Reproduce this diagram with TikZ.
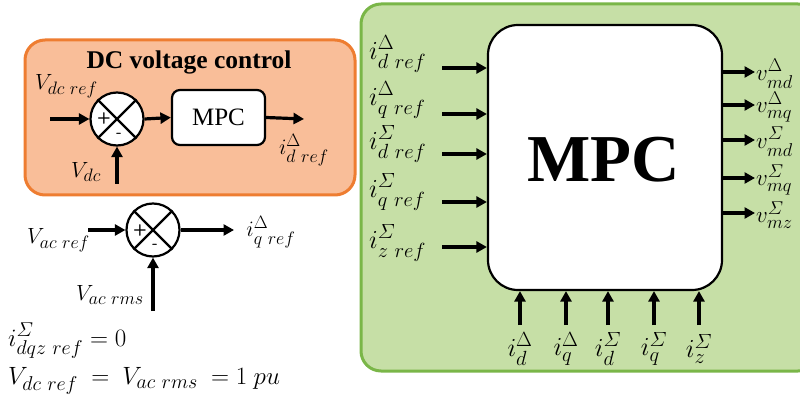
\RequirePackage{fix-cm}
\documentclass[tikz,border=0pt]{standalone}
\usepackage{amsmath}
\usepackage{fontspec}
\setmainfont{Liberation Serif}
\usetikzlibrary{arrows.meta,positioning}
\DeclareMathSizes{22}{22}{18}{13}
\DeclareMathSizes{23}{23}{18.5}{13}
\DeclareMathSizes{25}{25}{20}{15}
\DeclareMathSizes{26}{26}{20.5}{15}
\definecolor{laranja}{HTML}{F9BE99}
\definecolor{laranjaborda}{HTML}{EE7D31}
\definecolor{verde}{HTML}{C6DFA6}
\definecolor{verdeborda}{HTML}{7AB648}
\begin{document}
\begin{tikzpicture}[x=1pt,y=-1pt,
    sig/.style={-{Triangle[length=10.5pt,width=11pt]},line width=3.2pt},
    somador/.style={draw,circle,fill=white,line width=2.2pt,minimum size=53pt,inner sep=0pt},
    bloco/.style={draw,fill=white,line width=2.2pt},
    rot/.style={inner sep=0pt,font=\fontsize{22}{26}\selectfont},
    rotg/.style={inner sep=0pt,font=\fontsize{26}{30}\selectfont},
    sinal/.style={inner sep=0pt,font=\sffamily\bfseries\fontsize{16}{18}\selectfont}]
      \useasboundingbox (0,0) rectangle (800,406);
      % Controle da tensao DC
      \draw[fill=laranja, draw=laranjaborda, line width=3pt, rounded corners=20pt] (25,40) rectangle (355,195);
      \node[font=\bfseries\fontsize{25.5}{28}\selectfont] (titulo) at (189,62) {DC voltage control};

      \node[somador] (s1) at (117,119) {};
      \draw[line width=2.2pt] (s1.north west) -- (s1.south east) (s1.north east) -- (s1.south west);
      \node[sinal] (s1mais)  at (104,119) {+};
      \node[sinal] (s1menos) at (119,135) {-};
      \node[bloco, rounded corners=8pt, minimum width=93pt, minimum height=55pt,
            font=\fontsize{25}{28}\selectfont] (mpcdc) at (218.5,117.5) {MPC};

      \coordinate (e1)  at (50,119);
      \coordinate (e2)  at (117,184);
      \coordinate (sa1) at (304,119);
      \draw[sig] (e1) -- (s1.west);
      \draw[sig] (e2) -- (s1.south);
      \draw[sig] (s1.east) -- (mpcdc.west);
      \draw[sig] (mpcdc.east) -- (sa1);

      \node[rot, anchor=west] (vdcref) at (35,86)  {$V_{dc\ ref}$};
      \node[rot]              (vdc)    at (86,172) {$V_{dc}$};
      \node[rot]              (idref)  at (304,150) {$i^{\Delta}_{d\ ref}$};

      % Controle da tensao AC
      \node[somador] (s2) at (153,230) {};
      \draw[line width=2.2pt] (s2.north west) -- (s2.south east) (s2.north east) -- (s2.south west);
      \node[sinal] (s2mais)  at (140,230) {+};
      \node[sinal] (s2menos) at (155,246) {-};

      \coordinate (e3)  at (88,230);
      \coordinate (e4)  at (153,311);
      \coordinate (sa2) at (234,230);
      \draw[sig] (e3) -- (s2.west);
      \draw[sig] (e4) -- (s2.south);
      \draw[sig] (s2.east) -- (sa2);

      \node[rot, anchor=west] (vacref) at (27,240)  {$V_{ac\ ref}$};
      \node[rot]              (vacrms) at (110,295) {$V_{ac\ rms}$};
      \node[rot]              (iqref)  at (271,232) {$i^{\Delta}_{q\ ref}$};

      % Referencias
      \node[rotg, anchor=west, font=\fontsize{25}{30}\selectfont] (eq1) at (8,341) {$i^{\varSigma}_{dqz\ ref}=0$};
      \node[rotg, anchor=west, font=\fontsize{25}{30}\selectfont] (eq2) at (8,381) {$V_{dc\ ref}\ =\ V_{ac\ rms}\ =1\ pu$};

      % Bloco MPC principal
      \draw[fill=verde, draw=verdeborda, line width=3pt, rounded corners=20pt] (361,4) rectangle (818,371);
      \node[bloco, rounded corners=30pt, minimum width=234pt, minimum height=265pt] (mpc) at (605,157.5) {};
      \node[font=\bfseries\fontsize{67}{72}\selectfont] (mpctxt) at (604,160) {MPC};

      % Entradas
      \foreach \y/\ly/\lab [count=\k] in {68/54/{i^{\Delta}_{d\ ref}}, 114/100/{i^{\Delta}_{q\ ref}},
                                       154/144/{i^{\varSigma}_{d\ ref}}, 202/192/{i^{\varSigma}_{q\ ref}},
                                       247/243/{i^{\varSigma}_{z\ ref}}} {
        \coordinate (ent\k) at (442,\y);
        \draw[sig] (ent\k) -- (ent\k -| mpc.west);
        \node[rotg, anchor=west] (lent\k) at (369,\ly) {$\lab$};
      }

      % Saidas
      \foreach \y/\lab [count=\k] in {72/{v^{\Delta}_{md}}, 105/{v^{\Delta}_{mq}}, 140/{v^{\varSigma}_{md}},
                                     178/{v^{\varSigma}_{mq}}, 213/{v^{\varSigma}_{mz}}} {
        \coordinate (sai\k) at (755,\y);
        \draw[sig] (sai\k -| mpc.east) -- (sai\k);
        \node[rotg, anchor=west, font=\fontsize{23}{26}\selectfont] (lsai\k) at (756,\y+2) {$\lab$};
      }

      % Medidas
      \foreach \x/\lab [count=\k] in {520/{i^{\Delta}_{d}}, 566/{i^{\Delta}_{q}}, 608/{i^{\varSigma}_{d}},
                                     654/{i^{\varSigma}_{q}}, 699/{i^{\varSigma}_{z}}} {
        \coordinate (med\k) at (\x,325);
        \draw[sig] (med\k) -- (med\k |- mpc.south);
        \node[rotg] (lmed\k) at (\x,349) {$\lab$};
      }

    \end{tikzpicture}
\end{document}
